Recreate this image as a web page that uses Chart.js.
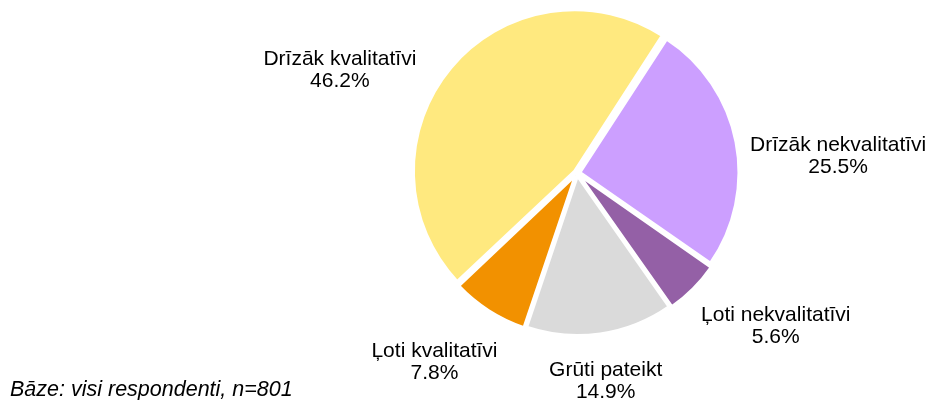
<!DOCTYPE html>
<html>
<head>
<meta charset="utf-8">
<script src="https://cdn.jsdelivr.net/npm/chart.js@4/dist/chart.umd.min.js"></script>
<style>
  html, body { margin: 0; padding: 0; background: #fff; }
</style>
</head>
<body>
<canvas id="pieChart" width="934" height="400"></canvas>
<script>
// 分类与数值
const categories = ['Drīzāk nekvalitatīvi', 'Ļoti nekvalitatīvi', 'Grūti pateikt', 'Ļoti kvalitatīvi', 'Drīzāk kvalitatīvi'];
const shares = [25.5, 5.6, 14.9, 7.8, 46.2];
const sliceColors = ['#CC9FFF', '#9460A6', '#DADADA', '#F29100', '#FFE97F'];
const footnote = 'Bāze: visi respondenti, n=801';

// 标签样式
const labelFont = '21px "Liberation Sans", Arial, sans-serif';
const labelNudge = [[-1, 22], [19, 11], [-5, 9], [-12, 20], [-41, 26]];

// 饼图外侧标签 + 底部注释
const outsideLabels = {
  id: 'outsideLabels',
  afterDatasetsDraw(chart) {
    const ctx = chart.ctx;
    const meta = chart.getDatasetMeta(0);
    ctx.save();
    ctx.font = labelFont;
    ctx.fillStyle = '#000';
    ctx.textAlign = 'center';
    ctx.textBaseline = 'middle';
    meta.data.forEach((arc, i) => {
      const mid = (arc.startAngle + arc.endAngle) / 2;
      const ux = Math.cos(mid);
      const uy = Math.sin(mid);
      const lines = [categories[i], shares[i].toFixed(1) + '%'];
      const w = Math.max(...lines.map(t => ctx.measureText(t).width));
      const h = 44;
      const r = arc.outerRadius + 20;
      const x = arc.x + ux * r + ux * w / 2 + labelNudge[i][0];
      const y = arc.y + uy * r + uy * h / 2 + labelNudge[i][1];
      ctx.fillText(lines[0], x, y - 11);
      ctx.fillText(lines[1], x, y + 11);
    });
    ctx.textAlign = 'left';
    ctx.textBaseline = 'alphabetic';
    ctx.font = 'italic 21.5px "Liberation Sans", Arial, sans-serif';
    ctx.fillText(footnote, 10, 396);
    ctx.restore();
  }
};

const ctx = document.getElementById('pieChart').getContext('2d');
new Chart(ctx, {
  type: 'pie',
  data: {
    labels: categories,
    datasets: [{
      data: shares,
      backgroundColor: sliceColors,
      borderColor: '#fff',
      borderWidth: 3,
      offset: 12
    }]
  },
  options: {
    responsive: false,
    animation: false,
    devicePixelRatio: 1,
    rotation: 33,
    radius: 159,
    layout: { padding: { left: 377, right: 157, top: 0, bottom: 54 } },
    plugins: {
      legend: { display: false },
      tooltip: { enabled: false }
    }
  },
  plugins: [outsideLabels]
});
</script>
</body>
</html>
